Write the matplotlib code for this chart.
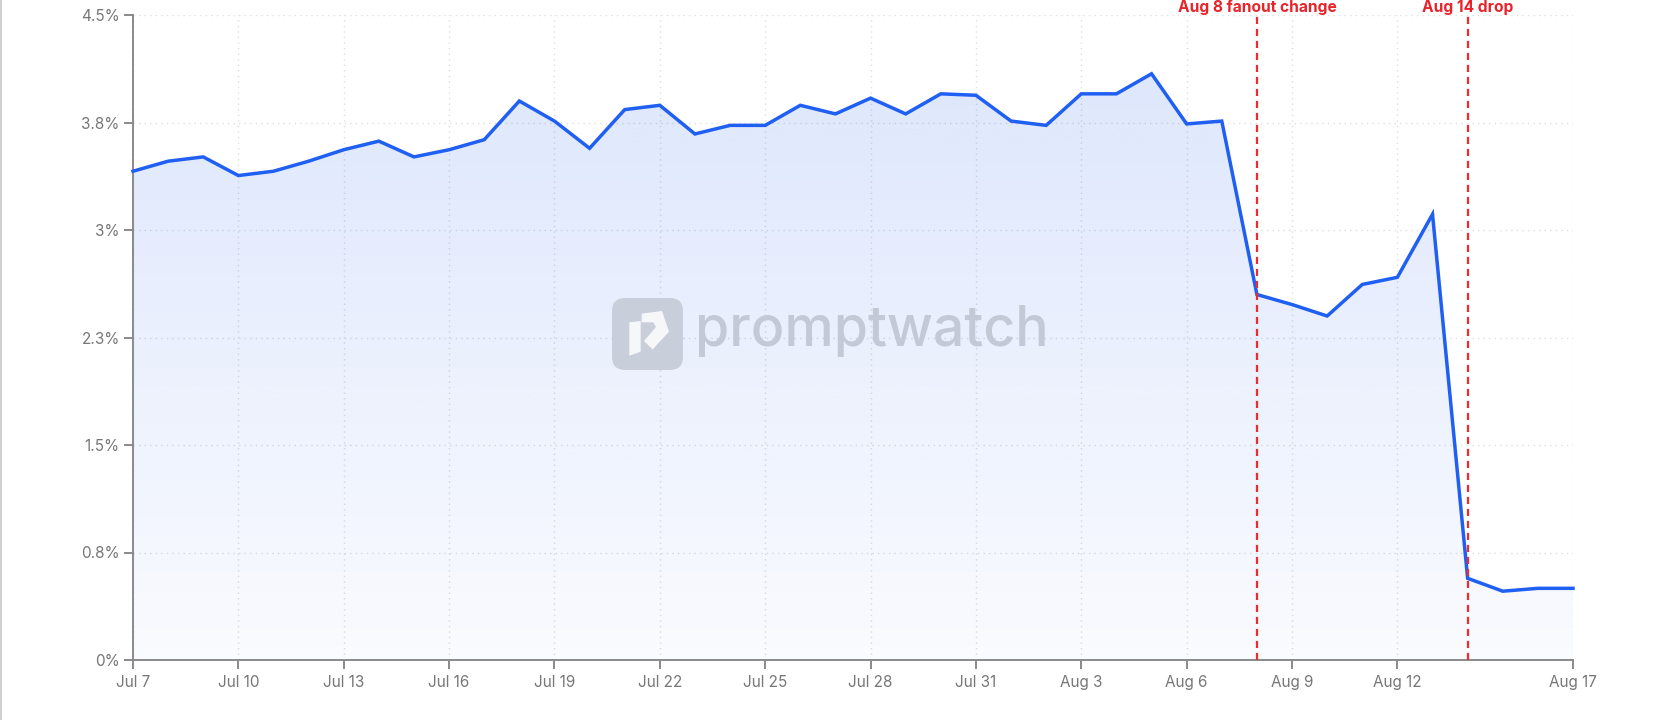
import numpy as np
import pandas as pd
import matplotlib
matplotlib.use('Agg')
import matplotlib.pyplot as plt
import matplotlib.dates as mdates
from matplotlib.patches import PathPatch, FancyBboxPatch, Polygon
from matplotlib.colors import to_rgb
import matplotlib.transforms as mtransforms
from matplotlib.lines import Line2D

plt.rcParams['font.family'] = ['Inter', 'DejaVu Sans']

# data (daily share, %)
dates = pd.date_range('2025-07-07', '2025-08-17', freq='D')
share = [3.41, 3.48, 3.51, 3.38, 3.41, 3.48, 3.56, 3.62, 3.51, 3.56,
         3.63, 3.90, 3.76, 3.57, 3.84, 3.87, 3.67, 3.73, 3.73, 3.87,
         3.81, 3.92, 3.81, 3.95, 3.94, 3.76, 3.73, 3.95, 3.95, 4.09,
         3.74, 3.76, 2.55, 2.48, 2.40, 2.62, 2.67, 3.11, 0.57, 0.48,
         0.50, 0.50]

y_ticks = [0, 0.75, 1.5, 2.25, 3.0, 3.75, 4.5]
y_labels = ['0%', '0.8%', '1.5%', '2.3%', '3%', '3.8%', '4.5%']
x_tick_dates = ['2025-07-07', '2025-07-10', '2025-07-13', '2025-07-16', '2025-07-19',
                '2025-07-22', '2025-07-25', '2025-07-28', '2025-07-31', '2025-08-03',
                '2025-08-06', '2025-08-09', '2025-08-12', '2025-08-17']
x_tick_labels = ['Jul 7', 'Jul 10', 'Jul 13', 'Jul 16', 'Jul 19', 'Jul 22', 'Jul 25',
                 'Jul 28', 'Jul 31', 'Aug 3', 'Aug 6', 'Aug 9', 'Aug 12', 'Aug 17']
events = ['2025-08-08', '2025-08-14']
event_labels = ['Aug 8 fanout change', 'Aug 14 drop']

W, H = 1656, 720
fig = plt.figure(figsize=(W / 100, H / 100), dpi=100)
fig.patch.set_facecolor('white')
# axes placed by pixels
left, right, top, bottom = 133, 1573, 15, 660
ax = fig.add_axes([left / W, 1 - bottom / H, (right - left) / W, (bottom - top) / H])

x = mdates.date2num(dates)
y = np.array(share)
line_col = '#1f5ff2'
grid_col = '#dedede'
axis_col = '#8a8a8a'

# gradient fill under the line
poly = ax.fill_between(x, y, 0, color='none', linewidth=0)
clip = PathPatch(poly.get_paths()[0], transform=ax.transData, facecolor='none', edgecolor='none')
ax.add_patch(clip)
grad = np.linspace(0.025, 0.16, 256)
rgba = np.zeros((256, 1, 4))
rgba[..., :3] = to_rgb('#1e5af0')
rgba[:, 0, 3] = grad
im = ax.imshow(rgba, extent=[x[0], x[-1], 0, 4.5], origin='lower', aspect='auto', zorder=1)
im.set_clip_path(clip)

ax.plot(x, y, color=line_col, linewidth=2.5, zorder=4, solid_joinstyle='miter', clip_on=False)

# event lines + labels
trans = mtransforms.blended_transform_factory(ax.transData, ax.transAxes)
for d, lab in zip(events, event_labels):
    xd = mdates.date2num(pd.Timestamp(d))
    ax.axvline(xd, color='#ee2b2f', linewidth=1.6, linestyle=(0, (3.2, 2.2)), zorder=5)
    ax.text(xd, 1.005, lab, transform=trans, ha='center', va='baseline', color='#e8232a',
            fontsize=11.2, fontweight='bold', clip_on=False)

# axes style
ax.set_xlim(x[0], x[-1])
ax.set_ylim(0, 4.5)
ax.set_yticks(y_ticks)
ax.set_yticklabels(y_labels)
ax.set_xticks(mdates.date2num(pd.to_datetime(x_tick_dates)))
ax.set_xticklabels(x_tick_labels)
ax.grid(True, color=grid_col, linestyle=(0, (1, 3)), linewidth=1.0, zorder=0)
ax.set_axisbelow(True)
for s in ['top', 'right']:
    ax.spines[s].set_visible(False)
for s in ['left', 'bottom']:
    ax.spines[s].set_color(axis_col)
    ax.spines[s].set_linewidth(1.4)
ax.tick_params(axis='both', colors=axis_col, length=6.5, width=1.4, labelsize=11,
               labelcolor='#777777', pad=3)
ax.tick_params(axis='x', pad=4)
ax.set_facecolor('none')

# watermark logo
def px(xp, yp):
    return (xp / W, 1 - yp / H)

box = FancyBboxPatch(px(612, 370), 71 / W, 72 / H, boxstyle='round,pad=0,rounding_size=0.008',
                     transform=fig.transFigure, facecolor='#c9cedb', edgecolor='none', zorder=3,
                     mutation_aspect=W / H)
fig.add_artist(box)
bar = [(88, 112), (122, 108), (122, 200), (88, 212)]
head = [(125, 86), (186, 78), (207, 140), (158, 193), (132, 168), (168, 126), (160, 112), (125, 112)]
for shape in [bar, head]:
    pts = [px(600 + a / 3, 285 + b / 3) for a, b in shape]
    fig.add_artist(Polygon(pts, closed=True, transform=fig.transFigure, facecolor='white',
                           edgecolor='none', alpha=0.85, zorder=3))
fig.text(695 / W, 1 - 346 / H, 'promptwatch', color='#c3c9d5', fontsize=40,
         fontweight='medium', ha='left', va='baseline', zorder=3)

# left border of the screenshot
fig.add_artist(Line2D([0.0008, 0.0008], [0, 1], transform=fig.transFigure, color='#d0d0d0', linewidth=1.5))

fig.savefig('out.png', dpi=100)
